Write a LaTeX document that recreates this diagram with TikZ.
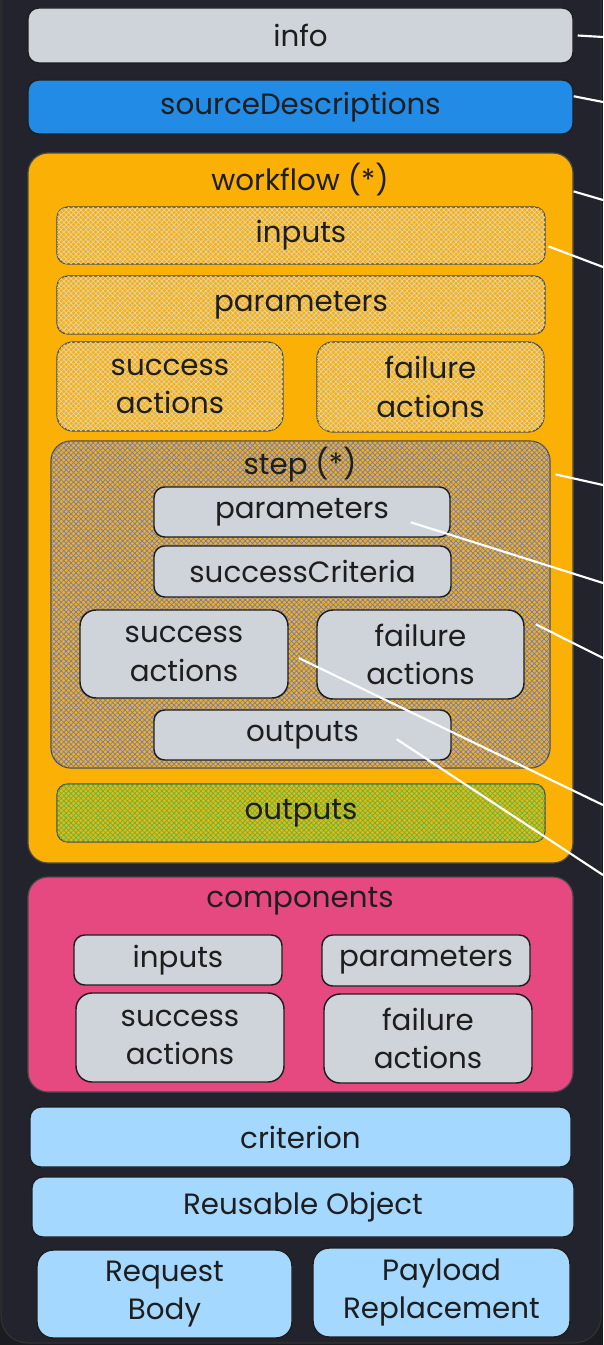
\documentclass[tikz,border=0pt]{standalone}
\usepackage{fontspec}
\setmainfont{Poppins}
\usetikzlibrary{calc,patterns.meta}
\definecolor{outerbg}{HTML}{1B1C22}
\definecolor{bgc}{HTML}{22232C}
\definecolor{ink}{HTML}{1E1E1E}
\definecolor{grayfill}{HTML}{CED4DA}
\definecolor{bluefill}{HTML}{228BE6}
\definecolor{orangefill}{HTML}{FAB005}
\definecolor{pinkfill}{HTML}{E64980}
\definecolor{lightblue}{HTML}{A5D8FF}
\definecolor{hatchgray}{HTML}{DAD6CC}
\definecolor{hatchblue}{HTML}{6079E0}
\definecolor{hatchgreen}{HTML}{40C057}
\definecolor{softborder}{HTML}{4A4A4A}
\tikzset{
  base/.style={inner sep=0pt, text=ink, align=center, font=\fontsize{22}{29}\selectfont},
  gbox/.style={base, draw=ink, line width=1.1pt, rounded corners=8pt, fill=grayfill},
  srcbox/.style={base, draw=ink, line width=1.1pt, rounded corners=8pt, fill=bluefill},
  lbbox/.style={base, draw=ink, line width=1.1pt, rounded corners=8pt, fill=lightblue},
  bigbox/.style={base, draw=softborder, line width=0.9pt, rounded corners=15pt},
  hatchbox/.style={base, draw=softborder, line width=0.9pt, rounded corners=8pt, fill=orangefill,
    postaction={pattern={Lines[angle=45,distance=2.6pt,line width=0.5pt]}, pattern color=#1},
    postaction={pattern={Lines[angle=-45,distance=2.6pt,line width=0.5pt]}, pattern color=#1}},
  titletext/.style={base},
  conn/.style={draw=white, line width=1.6pt}
}
% box helper: style, x1, y1, x2, y2, name, text
\newcommand\mybx[7]{%
  \node[#1, minimum width={(#4-#2)*0.75pt}, minimum height={(#5-#3)*0.75pt}]
    (#6) at ({(#2+#4)/2},{(#3+#5)/2}) {#7};}
\begin{document}
\begin{tikzpicture}[x=0.75pt,y=-0.75pt]
\useasboundingbox (0,0) rectangle (603,1345);
\fill[outerbg] (0,0) rectangle (603,1345);
\draw[fill=bgc, draw=black!80, line width=0.8pt, rounded corners=20pt] (1,-40) rectangle (601,1343);

% top boxes
\mybx{gbox}{28}{8}{573}{63}{info}{info}
\mybx{srcbox}{28}{80}{573}{134}{src}{sourceDescriptions}

% workflow
\mybx{bigbox, fill=orangefill}{28}{153}{573}{863}{wf}{}
\node[titletext] (wfTitle) at (300,180) {workflow (*)};
\mybx{hatchbox=hatchgray}{57}{207}{545}{264}{wfIn}{inputs}
\mybx{hatchbox=hatchgray}{57}{276}{545}{334}{wfPar}{parameters}
\mybx{hatchbox=hatchgray, rounded corners=12pt}{57}{342}{283}{431}{wfSucc}{success\\actions}
\mybx{hatchbox=hatchgray, rounded corners=12pt}{317}{342}{544}{432}{wfFail}{failure\\actions}

% step
\mybx{hatchbox=hatchblue, rounded corners=15pt}{51}{441}{550}{768}{step}{}
\node[titletext] (stepTitle) at (300,465) {step (*)};
\mybx{gbox}{154}{487}{450}{537}{spP}{parameters}
\mybx{gbox}{154}{546}{451}{597}{spC}{successCriteria}
\mybx{gbox, rounded corners=12pt}{80}{610}{288}{698}{spS}{success\\actions}
\mybx{gbox, rounded corners=12pt}{317}{610}{524}{699}{spF}{failure\\actions}
\mybx{gbox}{154}{710}{451}{760}{spO}{outputs}

\mybx{hatchbox=hatchgreen}{57}{784}{545}{842}{wfOut}{outputs}

% components
\mybx{bigbox, fill=pinkfill}{28}{877}{573}{1092}{comp}{}
\node[titletext] (compTitle) at (300,901) {components};
\mybx{gbox}{74}{935}{282}{985}{cIn}{inputs}
\mybx{gbox}{322}{935}{530}{986}{cPar}{parameters}
\mybx{gbox, rounded corners=12pt}{76}{993}{284}{1082}{cSucc}{success\\actions}
\mybx{gbox, rounded corners=12pt}{324}{994}{532}{1083}{cFail}{failure\\actions}

% bottom
\mybx{lbbox}{30}{1107}{571}{1167}{crit}{criterion}
\mybx{lbbox}{32}{1177}{574}{1237}{reuse}{Reusable Object}
\mybx{lbbox, rounded corners=12pt}{37}{1250}{292}{1338}{req}{Request\\Body}
\mybx{lbbox, rounded corners=12pt}{313}{1248}{570}{1337}{pay}{Payload\\Replacement}

% connector free ends
\coordinate (eInfo) at (603,37);
\coordinate (eSrc) at (603,102);
\coordinate (eWf) at (603,200);
\coordinate (eIn) at (603,267);
\coordinate (eStep) at (603,485);
\coordinate (eSpP) at (603,583);
\coordinate (eSpF) at (603,658);
\coordinate (eSpS) at (603,805);
\coordinate (eSpO) at (603,875);

\draw[conn] ([xshift=3]info.east) -- (eInfo);
\draw[conn] ($(src.north east)+(0,17)$) -- (eSrc);
\draw[conn] ($(wf.north east)+(0,39)$) -- (eWf);
\draw[conn] ($(wfIn.north east)+(3,40)$) -- (eIn);
\draw[conn] ($(step.north east)+(5,34)$) -- (eStep);
\draw[conn] ($(spP.north east)+(-40,36)$) -- (eSpP);
\draw[conn] ($(spF.north east)+(11,15)$) -- (eSpF);
\draw[conn] ($(spS.east)+(10,4)$) -- (eSpS);
\draw[conn] ($(spO.north east)+(-55,30)$) -- (eSpO);
\end{tikzpicture}
\end{document}
